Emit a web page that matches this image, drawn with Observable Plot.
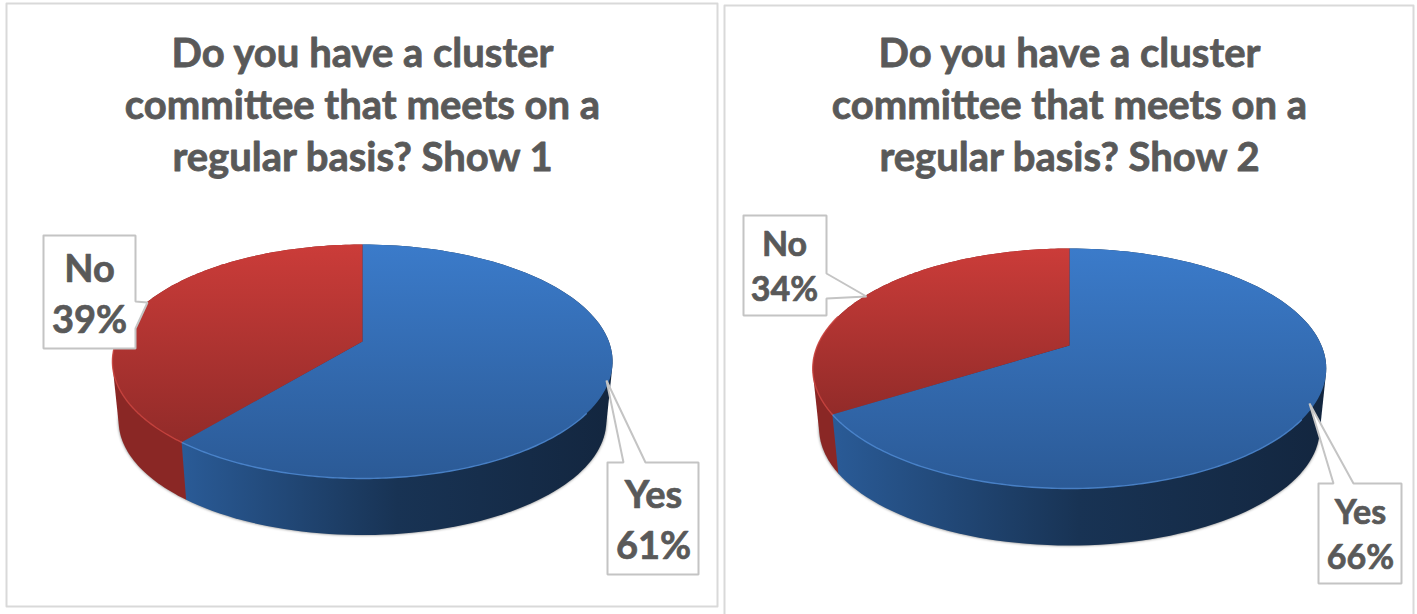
<!DOCTYPE html>
<html><head><meta charset="utf-8">
<script src="https://cdn.jsdelivr.net/npm/d3@7"></script>
<script src="https://cdn.jsdelivr.net/npm/@observablehq/plot@0.6"></script>
<style>html,body{margin:0;padding:0;background:#fff}svg{display:block}</style>
</head><body><div id="chart"></div>
<script>
const categories = ["Yes", "No"];
const show1 = [61, 39];
const show2 = [66, 34];
const titles = [
  "Do you have a cluster\ncommittee that meets on a\nregular basis? Show 1",
  "Do you have a cluster\ncommittee that meets on a\nregular basis? Show 2"
];

// layout of each panel
const pies = [
  {values: show1, cx: 362, cy: 341, top: 97, bottom: 137, R: 246.4, depth: 60, title: titles[0], tx: 362, labelSize: 38, labelLead: 1.34,
   border: [[6,3],[717,3],[717,606],[6,606],[6,3]],
   boxes: {
     No:  {pts: [[43,235],[135,235],[135,301],[147,302],[135,328],[135,348],[43,348],[43,235]], tx: 89, ty: 291},
     Yes: {pts: [[607,462],[623,462],[606,380],[645,462],[698,462],[698,574],[607,574],[607,462]], tx: 653, ty: 517}
   }},
  {values: show2, cx: 1069, cy: 345, top: 97, bottom: 143, R: 252, depth: 60.6, title: titles[1], tx: 1069, labelSize: 34, labelLead: 1.32,
   border: [[724,5],[1413,5],[1413,616],[724,616],[724,5]],
   boxes: {
     No:  {pts: [[743,215],[826,215],[826,273],[866,296],[826,298],[826,315],[743,315],[743,215]], tx: 784, ty: 263.5},
     Yes: {pts: [[1318,483],[1333,483],[1309,403],[1353,483],[1401,483],[1401,583],[1318,583],[1318,483]], tx: 1360, ty: 532}
   }}
];

const SHRINK = 0.975;
function projector(p) {
  const k = (p.bottom - p.top) / (p.bottom + p.top);
  const A = p.bottom * (1 - k);
  return (deg, lower) => {
    const t = deg * Math.PI / 180, u = Math.sin(t), v = -Math.cos(t), d = 1 - k * v;
    const x = p.R * u / d, y = A * v / d;
    return lower ? [p.cx + x * SHRINK, p.cy + y * SHRINK + p.depth] : [p.cx + x, p.cy + y];
  };
}
const arc = (f, a, b, lower) => d3.range(0, 121).map(i => f(a + (b - a) * i / 120, lower));
const wall = (f, a, b) => {
  const h = d3.polygonHull([...arc(f, a, b), ...arc(f, a, b, true)]);
  return [...h, h[0]];
};

const marks = [];
const poly = (pts, o) => marks.push(Plot.line(pts, {x: d => d[0], y: d => d[1], curve: "linear", ...o}));
const blur = (id) => (i, s, v, d, c, next) => { const g = next(i, s, v, d, c); g.setAttribute("filter", `url(#${id})`); return g; };
const INK = "#595959";

pies.forEach(p => {
  poly(p.border, {stroke: "#d9d9d9", strokeWidth: 2});
  const f = projector(p);
  const yesEnd = 360 * p.values[0] / (p.values[0] + p.values[1]);
  // soft shadow below the disc
  poly(arc(f, 0, 360, true), {fill: "#000", stroke: "none", fillOpacity: 0.55, render: blur("soft")});
  // side walls: red first, the blue wall then gives the seam
  poly(wall(f, yesEnd, 360), {fill: "url(#sideRed)", stroke: "none"});
  poly(wall(f, 0, yesEnd), {fill: "url(#sideBlue)", stroke: "none"});
  // top faces
  poly([[p.cx, p.cy], ...arc(f, 0, yesEnd), [p.cx, p.cy]], {fill: "url(#topBlue)", stroke: "none"});
  poly([[p.cx, p.cy], ...arc(f, yesEnd, 360), [p.cx, p.cy]], {fill: "url(#topRed)", stroke: "none"});
  // bevel highlight on the rim
  poly(arc(f, 125, yesEnd), {stroke: "#4f8ad2", strokeWidth: 1.4, strokeOpacity: 0.85});
  poly(arc(f, yesEnd, 285), {stroke: "#cb4541", strokeWidth: 1.4, strokeOpacity: 0.85});
  // callouts
  categories.forEach((cat, i) => {
    const b = p.boxes[cat];
    poly(b.pts, {fill: "#fff", stroke: "#c4c4c4", strokeWidth: 2, strokeLinejoin: "miter"});
    marks.push(Plot.text([`${cat}\n${p.values[i]}%`], {
      x: () => b.tx, y: () => b.ty, text: d => d,
      fontFamily: "Lato", fontWeight: 700, fontSize: p.labelSize, fill: INK, stroke: INK, strokeWidth: 0.7,
      lineHeight: p.labelLead, textAnchor: "middle"
    }));
  });
  marks.push(Plot.text([p.title], {
    x: () => p.tx, y: () => 102, text: d => d,
    fontFamily: "Lato", fontWeight: 700, fontSize: 40, fill: INK, stroke: INK, strokeWidth: 0.8,
    lineHeight: 1.3, textAnchor: "middle"
  }));
});

const chart = Plot.plot({
  width: 1417, height: 614,
  marginTop: 0, marginRight: 0, marginBottom: 0, marginLeft: 0,
  x: {type: "linear", domain: [0, 1417], range: [0, 1417], axis: null},
  y: {type: "linear", domain: [0, 614], range: [0, 614], axis: null},
  style: {background: "#fff"},
  marks
});
chart.insertAdjacentHTML("afterbegin", `<defs>
<linearGradient id="topBlue" x1="0" y1="0" x2="0" y2="1"><stop offset="0" stop-color="#3b7bca"/><stop offset="1" stop-color="#2b5a96"/></linearGradient>
<linearGradient id="topRed" x1="0" y1="0" x2="0" y2="1"><stop offset="0" stop-color="#cb3c39"/><stop offset="1" stop-color="#922b29"/></linearGradient>
<linearGradient id="sideBlue" x1="0" y1="0" x2="1" y2="0"><stop offset="0" stop-color="#2a5b97"/><stop offset="0.5" stop-color="#183354"/><stop offset="1" stop-color="#13263f"/></linearGradient>
<linearGradient id="sideRed" x1="0" y1="0" x2="1" y2="0"><stop offset="0" stop-color="#8a2725"/><stop offset="1" stop-color="#8a2725"/></linearGradient>
<filter id="soft" x="-5%" y="-5%" width="110%" height="110%"><feGaussianBlur stdDeviation="1.6"/></filter>
</defs>`);
document.getElementById("chart").appendChild(chart);
</script></body></html>
